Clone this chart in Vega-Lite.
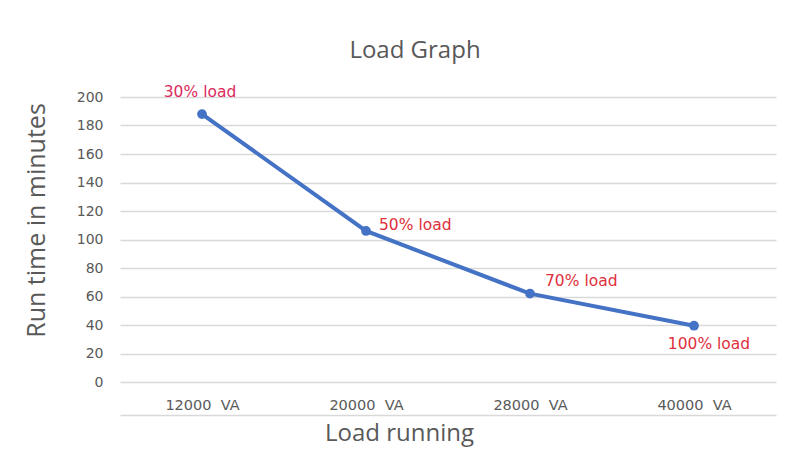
{
  "$schema": "https://vega.github.io/schema/vega-lite/v6.json",
  "autosize": {"type": "none"},
  "width": 656,
  "height": 285,
  "padding": {"left": 120, "top": 97, "right": 12, "bottom": 79},
  "background": "white",
  "title": {
    "text": "Load Graph",
    "font": "Open Sans",
    "fontSize": 24,
    "fontWeight": "normal",
    "color": "#595959",
    "anchor": "middle",
    "dx": -33,
    "offset": 22
  },
  "data": {
    "values": [
      {"load": "12000\u00a0 VA", "minutes": 188, "label": "30% load"},
      {"load": "20000\u00a0 VA", "minutes": 106, "label": "50% load"},
      {"load": "28000\u00a0 VA", "minutes": 62, "label": "70% load"},
      {"load": "40000\u00a0 VA", "minutes": 39.5, "label": "100% load"}
    ]
  },
  "encoding": {
    "x": {
      "field": "load",
      "type": "ordinal",
      "sort": null,
      "scale": {"padding": 0.5},
      "axis": {
        "title": "Load running",
        "titleFont": "Open Sans",
        "titleFontSize": 24,
        "titleFontWeight": "normal",
        "titleColor": "#595959",
        "titlePadding": 6,
        "titleX": 279,
        "labelFont": "DejaVu Sans",
        "labelFontSize": 14.5,
        "labelColor": "#595959",
        "labelAngle": 0,
        "labelBaseline": "middle",
        "labelPadding": -10,
        "ticks": false,
        "grid": false,
        "offset": 33,
        "domainColor": "#d9d9d9",
        "domainWidth": 1.5
      }
    },
    "y": {
      "field": "minutes",
      "type": "quantitative",
      "scale": {"domain": [0, 200]},
      "axis": {
        "title": "Run time in minutes",
        "titleFont": "Open Sans",
        "titleFontSize": 25,
        "titleFontWeight": "normal",
        "titleColor": "#595959",
        "titlePadding": 27,
        "titleY": 123,
        "labelFont": "DejaVu Sans",
        "labelFontSize": 14,
        "labelColor": "#595959",
        "labelPadding": 17,
        "values": [0, 20, 40, 60, 80, 100, 120, 140, 160, 180, 200],
        "ticks": false,
        "domain": false,
        "gridColor": "#d9d9d9",
        "gridWidth": 1.5
      }
    }
  },
  "layer": [
    {
      "mark": {"type": "line", "color": "#4472c4", "strokeWidth": 4, "point": {"filled": true, "size": 95, "color": "#4472c4"}}
    },
    {
      "transform": [{"filter": "datum.label == '30% load'"}],
      "mark": {"type": "text", "font": "DejaVu Sans", "fontSize": 15.5, "align": "center", "baseline": "middle", "dx": -2, "dy": -22},
      "encoding": {
        "text": {"field": "label"},
        "color": {"field": "label", "type": "nominal", "legend": null,
          "scale": {"domain": ["30% load", "50% load", "70% load", "100% load"], "range": ["#dc2a5e", "#e0303c", "#e0303c", "#e0303c"]}}
      }
    },
    {
      "transform": [{"filter": "datum.label == '50% load'"}],
      "mark": {"type": "text", "font": "DejaVu Sans", "fontSize": 15.5, "align": "left", "baseline": "middle", "dx": 13, "dy": -6},
      "encoding": {
        "text": {"field": "label"},
        "color": {"field": "label", "type": "nominal", "legend": null}
      }
    },
    {
      "transform": [{"filter": "datum.label == '70% load'"}],
      "mark": {"type": "text", "font": "DejaVu Sans", "fontSize": 15.5, "align": "left", "baseline": "middle", "dx": 15, "dy": -13},
      "encoding": {
        "text": {"field": "label"},
        "color": {"field": "label", "type": "nominal", "legend": null}
      }
    },
    {
      "transform": [{"filter": "datum.label == '100% load'"}],
      "mark": {"type": "text", "font": "DejaVu Sans", "fontSize": 15.5, "align": "center", "baseline": "middle", "dx": 15, "dy": 18},
      "encoding": {
        "text": {"field": "label"},
        "color": {"field": "label", "type": "nominal", "legend": null}
      }
    }
  ],
  "config": {
    "view": {"stroke": null}
  }
}
